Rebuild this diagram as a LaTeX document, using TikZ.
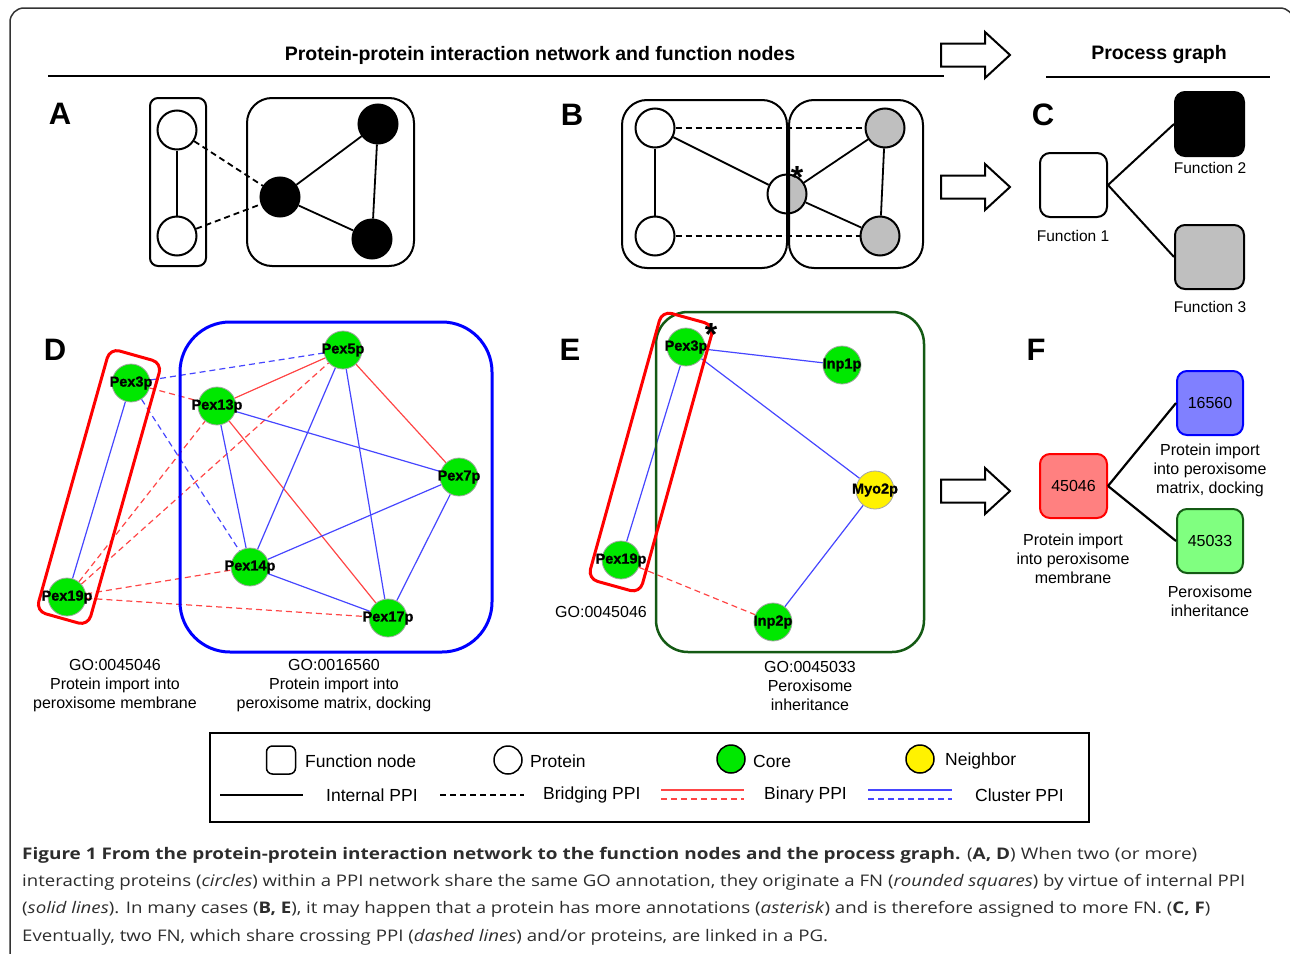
\documentclass[tikz,border=0pt]{standalone}
\usepackage{fontspec}
\setmainfont{Liberation Sans}
\newfontfamily\capfont{Open Sans}
\newfontfamily\pexfont[FakeBold=1.2]{Liberation Sans Bold}
\usetikzlibrary{backgrounds}
\definecolor{ppired}{RGB}{255,70,70}
\definecolor{ppiblue}{RGB}{70,70,255}
\definecolor{coregreen}{RGB}{0,232,0}
\definecolor{fnred}{RGB}{255,128,128}
\definecolor{fnblue}{RGB}{128,128,255}
\definecolor{fngreen}{RGB}{128,255,128}
\definecolor{fnborder}{RGB}{20,90,20}
\definecolor{capgray}{RGB}{45,45,45}
\newcommand\fsz[2]{\fontsize{#1}{#2}\selectfont}
\newcommand\fitline[2]{\resizebox{#1}{\height}{#2}}
\tikzset{
  panel/.style={font=\bfseries\fsz{31}{31}, inner sep=0pt},
  hdr/.style={font=\bfseries\fsz{19.5}{22}, inner sep=0pt},
  lab/.style={font=\fsz{16}{19}, align=center, inner sep=0pt},
  leg/.style={font=\fsz{17.5}{20}, anchor=west, inner sep=0pt},
  hollow/.pic={\draw[line width=2pt, fill=white, line join=miter]
      (0,-11.5) -- (44,-11.5) -- (44,-23) -- (69,0) -- (44,23) -- (44,11.5) -- (0,11.5) -- cycle;},
  prot/.style={circle, draw, line width=2pt, minimum size=39pt, inner sep=0pt, fill=white},
  fnbox/.style={draw, line width=2pt, rounded corners=#1, inner sep=0pt},
  pexlab/.style={font=\pexfont\fsz{14.5}{14.5}, inner sep=0pt},
  core/.style={circle, draw=gray!70, line width=0.8pt, fill=coregreen, minimum size=38pt,
      inner sep=0pt, label={[pexlab]center:#1}},
  neigh/.style={core=#1, fill=yellow},
  internal/.style={line width=1.8pt},
  bridging/.style={line width=1.8pt, dash pattern=on 6pt off 4pt},
  binary/.style={ppired, line width=1.2pt},
  cluster/.style={ppiblue, line width=1.2pt},
  crossing/.style={dash pattern=on 6pt off 4pt},
  star/.style={font=\bfseries\fsz{32}{32}, inner sep=0pt},
}
\begin{document}
\begin{tikzpicture}[x=1pt, y=-1pt]
\useasboundingbox (0,0) rectangle (1290,953);
\clip (0,0) rectangle (1290,953);
% outer frame
\draw[line width=1.5pt, black!80, rounded corners=14pt] (10,8) rectangle (1294,975);

% header
\node[hdr] (title) at (540,55) {Protein-protein interaction network and function nodes};
\draw[line width=2.5pt] (48,76) -- (944,76);
\pic at (941,55) {hollow};
\node[hdr] (ptitle) at (1159,55) {Process graph};
\draw[line width=2.5pt] (1046,77) -- (1270,77);

% ---------- panel A ----------
\node[panel] (lA) at (60,114) {A};
\node[prot] (a1) at (177,130) {};
\node[prot] (a2) at (177,236) {};
\node[prot, fill=black] (a3) at (378,124) {};
\node[prot, fill=black] (a4) at (280,197) {};
\node[prot, fill=black] (a5) at (372,239) {};
\node[fnbox=8pt, minimum width=56pt, minimum height=168pt] (fa1) at (178,182) {};
\node[fnbox=25pt, minimum width=167pt, minimum height=168pt] (fa2) at (330.5,182) {};
\begin{scope}[on background layer]
  \draw[internal] (a1) -- (a2);
  \draw[internal] (a4) -- (a3);
  \draw[internal] (a4) -- (a5);
  \draw[internal] (a3) -- (a5);
  \draw[bridging] (a1) -- (a4);
  \draw[bridging] (a2) -- (a4);
\end{scope}

% ---------- panel B ----------
\node[panel] (lB) at (572,115) {B};
\node[prot] (b1) at (655,128) {};
\node[prot] (b2) at (655,236) {};
\node[prot, fill=black!25] (b4) at (885,128) {};
\node[prot, fill=black!25] (b5) at (880,236) {};
\node[prot, path picture={\fill[black!25] (path picture bounding box.south)
      rectangle (path picture bounding box.north east);}] (b3) at (787,194) {};
\node[fnbox=25pt, minimum width=165pt, minimum height=168pt] (fb1) at (704.5,184) {};
\node[fnbox=25pt, minimum width=134pt, minimum height=168pt] (fb2) at (856,184) {};
\node[star] (astB) at (797,177) {*};
\begin{scope}[on background layer]
  \draw[internal] (b1) -- (b2);
  \draw[internal] (b1) -- (b3);
  \draw[internal] (b3) -- (b4);
  \draw[internal] (b3) -- (b5);
  \draw[internal] (b4) -- (b5);
  \draw[bridging] (b1) -- (b4);
  \draw[bridging] (b2) -- (b5);
\end{scope}
\pic at (941,187) {hollow};

% ---------- panel C ----------
\node[panel] (lC) at (1043,115) {C};
\node[fnbox=10pt, minimum width=67pt, minimum height=64pt] (c1) at (1073.5,185) {};
\node[fnbox=10pt, minimum width=69pt, minimum height=64pt, fill=black] (c2) at (1209.5,124) {};
\node[fnbox=10pt, minimum width=69pt, minimum height=64pt, fill=black!25] (c3) at (1209.5,257) {};
\draw[line width=2pt] (c1.east) -- (c2.west);
\draw[line width=2pt] (c1.east) -- (c3.west);
\node[lab, font=\fsz{15.5}{18}] (c1l) at (1073,236) {Function 1};
\node[lab, font=\fsz{15.5}{18}] (c2l) at (1210,168) {Function 2};
\node[lab, font=\fsz{15.5}{18}] (c3l) at (1210,307) {Function 3};

% ---------- panel D ----------
\node[panel] (lD) at (55,350) {D};
\node[core=Pex3p] (p3) at (131,383) {};
\node[core=Pex19p] (p19) at (67,597) {};
\node[core=Pex13p] (p13) at (217,406) {};
\node[core=Pex5p] (p5) at (343,350) {};
\node[core=Pex7p] (p7) at (459,477) {};
\node[core=Pex14p] (p14) at (250,567) {};
\node[core=Pex17p] (p17) at (388,618) {};
\node[draw=red, line width=3pt, rounded corners=10pt, minimum width=54pt, minimum height=273pt,
      rotate=-15.7] (fd1) at (99,487) {};
\node[draw=blue, line width=3pt, rounded corners=50pt, minimum width=312pt, minimum height=330pt]
      (fd2) at (336,487) {};
\begin{scope}[on background layer]
  \draw[cluster] (p3) -- (p19);
  \draw[cluster, crossing] (p3) -- (p5);
  \draw[binary, crossing] (p3) -- (p13);
  \draw[cluster, crossing] (p3) -- (p14);
  \draw[binary, crossing] (p19) -- (p13);
  \draw[binary, crossing] (p19) -- (p5);
  \draw[binary, crossing] (p19) -- (p14);
  \draw[binary, crossing] (p19) -- (p17);
  \draw[binary] (p13) -- (p5);
  \draw[cluster] (p13) -- (p7);
  \draw[cluster] (p13) -- (p14);
  \draw[binary] (p13) -- (p17);
  \draw[cluster] (p5) -- (p14);
  \draw[cluster] (p5) -- (p17);
  \draw[binary] (p5) -- (p7);
  \draw[cluster] (p7) -- (p14);
  \draw[cluster] (p7) -- (p17);
  \draw[cluster] (p14) -- (p17);
\end{scope}
\node[lab] (dl1) at (115,686) {GO:0045046\\Protein import into\\peroxisome membrane};
\node[lab] (dl2) at (334,686) {GO:0016560\\Protein import into\\peroxisome matrix, docking};

% ---------- panel E ----------
\node[panel] (lE) at (570,350) {E};
\node[core=Pex3p] (e3) at (686,347) {};
\node[core=Pex19p] (e19) at (621,560) {};
\node[core=Inp1p] (e1) at (842,365) {};
\node[neigh=Myo2p] (em) at (875,490) {};
\node[core=Inp2p] (e2) at (773,622) {};
\node[draw=fnborder, line width=2.5pt, rounded corners=32pt, minimum width=268pt, minimum height=340pt]
      (fe2) at (790,482) {};
\node[draw=red, line width=3pt, rounded corners=10pt, minimum width=54pt, minimum height=278pt,
      rotate=-15.5] (fe1) at (651,452) {};
\node[star] (astE) at (711,334) {*};
\begin{scope}[on background layer]
  \draw[cluster] (e3) -- (e19);
  \draw[cluster] (e3) -- (e1);
  \draw[cluster] (e3) -- (em);
  \draw[cluster] (em) -- (e2);
  \draw[binary, crossing] (e19) -- (e2);
\end{scope}
\node[lab] (el1) at (601,612) {GO:0045046};
\node[lab] (el2) at (810,686) {GO:0045033\\Peroxisome\\inheritance};
\pic at (941,491) {hollow};

% ---------- panel F ----------
\node[panel] (lF) at (1036,350) {F};
\node[fnbox=10pt, draw=red, fill=fnred, minimum width=67pt, minimum height=64pt, font=\fsz{16}{19}]
      (g1) at (1073.5,486) {45046};
\node[fnbox=10pt, draw=blue, fill=fnblue, minimum width=66pt, minimum height=64pt, font=\fsz{16}{19}]
      (g2) at (1210,403) {16560};
\node[fnbox=10pt, draw=fnborder, fill=fngreen, minimum width=66pt, minimum height=64pt, font=\fsz{16}{19}]
      (g3) at (1210,541) {45033};
\draw[line width=2.2pt] (g1.east) -- (g2.west);
\draw[line width=2.2pt] (g1.east) -- (g3.west);
\node[lab] (g1l) at (1073,559) {Protein import\\into peroxisome\\membrane};
\node[lab] (g2l) at (1210,470) {Protein import\\into peroxisome\\matrix, docking};
\node[lab] (g3l) at (1210,601.5) {Peroxisome\\inheritance};

% ---------- legend ----------
\node[draw, line width=2pt, minimum width=879pt, minimum height=89pt, inner sep=0pt] (legend) at (649.5,777.5) {};
\node[fnbox=6pt, line width=1.5pt, minimum width=29pt, minimum height=28pt] (kfn) at (281,760) {};
\node[leg] (kfnt) at (305,761) {Function node};
\node[circle, draw, line width=1.5pt, minimum size=28pt, inner sep=0pt] (kpr) at (508,760) {};
\node[leg] (kprt) at (530,761) {Protein};
\node[circle, draw, line width=1.5pt, fill=coregreen, minimum size=28pt, inner sep=0pt] (kco) at (731,759) {};
\node[leg] (kcot) at (753,761) {Core};
\node[circle, draw, line width=1.5pt, fill=yellow, minimum size=28pt, inner sep=0pt] (kne) at (920,759) {};
\node[leg] (knet) at (945,761) {Neighbor};
\coordinate (ki1) at (220,795); \coordinate (ki2) at (303,795);
\coordinate (kb1) at (440,795); \coordinate (kb2) at (524,795);
\coordinate (kr1) at (661,790); \coordinate (kr2) at (744,790);
\coordinate (kr3) at (661,799); \coordinate (kr4) at (744,799);
\coordinate (kc1) at (868,790); \coordinate (kc2) at (952,790);
\coordinate (kc3) at (868,799); \coordinate (kc4) at (952,799);
\draw[internal] (ki1) -- (ki2);
\draw[bridging] (kb1) -- (kb2);
\draw[ppired, line width=2pt] (kr1) -- (kr2);
\draw[ppired, line width=2pt, crossing] (kr3) -- (kr4);
\draw[ppiblue, line width=2pt] (kc1) -- (kc2);
\draw[ppiblue, line width=2pt, crossing] (kc3) -- (kc4);
\node[leg] (kit) at (326,795) {Internal PPI};
\node[leg] (kbt) at (543,795) {Bridging PPI};
\node[leg] (krt) at (764,795) {Binary PPI};
\node[leg] (kct) at (975,795) {Cluster PPI};

% ---------- caption ----------
\begin{scope}[every node/.style={anchor=base west, inner sep=0pt, text=capgray, font=\capfont\fsz{16}{18}}]
\node (cap1) at (22,859) {\fitline{1175pt}{\textbf{Figure 1 From the protein-protein interaction network to the function nodes and the process graph.} (\textbf{A, D}) When two (or more)}};
\node (cap2) at (22,886) {\fitline{1223pt}{interacting proteins (\textit{circles}) within a PPI network share the same GO annotation, they originate a FN (\textit{rounded squares}) by virtue of internal PPI}};
\node (cap3) at (22,913) {\fitline{1188pt}{(\textit{solid lines}). In many cases (\textbf{B, E}), it may happen that a protein has more annotations (\textit{asterisk}) and is therefore assigned to more FN. (\textbf{C, F})}};
\node (cap4) at (22,941) {\fitline{806pt}{Eventually, two FN, which share crossing PPI (\textit{dashed lines}) and/or proteins, are linked in a PG.}};
\end{scope}
\end{tikzpicture}
\end{document}
